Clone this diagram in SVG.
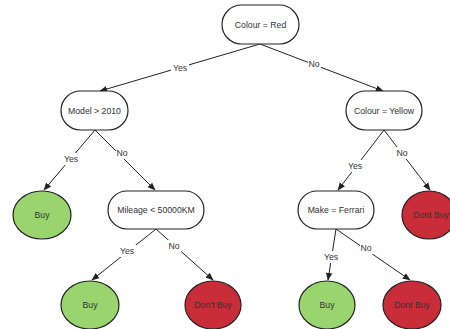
<svg xmlns="http://www.w3.org/2000/svg" width="450" height="329" viewBox="0 0 450 329">
<defs>
<style>
.dec{fill:#fff;stroke:#222;stroke-width:1.2}
.buy{fill:#99d46e;stroke:#222;stroke-width:1.2}
.no{fill:#c92d3a;stroke:#222;stroke-width:1.2}
text{font-family:"Liberation Sans",Arial,sans-serif;font-size:8.7px;fill:#333;text-anchor:middle;dominant-baseline:central}
.e{stroke:#222;stroke-width:1;fill:none;marker-end:url(#ah)}
.lb{fill:#fff}
</style>
<marker id="ah" viewBox="0 0 10 10" refX="9" refY="5" markerWidth="8" markerHeight="8" orient="auto" markerUnits="userSpaceOnUse">
<path d="M0,1 L10,5 L0,9 Z" fill="#222"/>
</marker>
</defs>
<g id="connectors">
<line class="e" x1="260" y1="44" x2="100" y2="91"/>
<line class="e" x1="260" y1="44" x2="383" y2="91"/>
<line class="e" x1="95" y1="130" x2="44" y2="190"/>
<line class="e" x1="95" y1="130" x2="155" y2="190"/>
<line class="e" x1="384" y1="130" x2="338" y2="190"/>
<line class="e" x1="384" y1="130" x2="430" y2="190"/>
<line class="e" x1="156" y1="229" x2="92" y2="280"/>
<line class="e" x1="156" y1="229" x2="213" y2="280"/>
<line class="e" x1="336" y1="229" x2="328" y2="280"/>
<line class="e" x1="336" y1="229" x2="410" y2="280"/>
<rect class="lb" x="171" y="62" width="18" height="12"/><text x="180" y="68">Yes</text>
<rect class="lb" x="308" y="58" width="13" height="12"/><text x="314" y="64">No</text>
<rect class="lb" x="62" y="153" width="18" height="12"/><text x="71" y="159">Yes</text>
<rect class="lb" x="116" y="147" width="13" height="12"/><text x="122" y="153">No</text>
<rect class="lb" x="346" y="160" width="18" height="12"/><text x="355" y="166">Yes</text>
<rect class="lb" x="396" y="147" width="13" height="12"/><text x="402" y="153">No</text>
<rect class="lb" x="118" y="245" width="18" height="12"/><text x="127" y="251">Yes</text>
<rect class="lb" x="168" y="240" width="13" height="12"/><text x="174" y="246">No</text>
<rect class="lb" x="322" y="251" width="18" height="12"/><text x="331" y="257">Yes</text>
<rect class="lb" x="360" y="242" width="13" height="12"/><text x="366" y="248">No</text>
</g>
<g id="root"><rect class="dec" x="222" y="5" width="77" height="39" rx="19.5"/><text x="260.5" y="25">Colour = Red</text></g>
<g id="model"><rect class="dec" x="61" y="91" width="67" height="39" rx="19.5"/><text x="94.5" y="110.5">Model &gt; 2010</text></g>
<g id="yellow"><rect class="dec" x="346" y="91" width="76" height="39" rx="19.5"/><text x="384" y="110.5">Colour = Yellow</text></g>
<g id="buy1"><ellipse class="buy" cx="42" cy="215" rx="29" ry="24"/><text x="42" y="215">Buy</text></g>
<g id="mileage"><rect class="dec" x="108" y="191" width="96" height="38" rx="19"/><text x="156" y="210">Mileage &lt; 50000KM</text></g>
<g id="ferrari"><rect class="dec" x="298" y="191" width="76" height="38" rx="19"/><text x="336" y="210">Make = Ferrari</text></g>
<g id="dontbuy1"><ellipse class="no" cx="429" cy="215" rx="27" ry="24"/><text x="431" y="215">Dont Buy</text></g>
<g id="buy2"><ellipse class="buy" cx="90" cy="305" rx="29" ry="24"/><text x="90" y="305">Buy</text></g>
<g id="dontbuy2"><ellipse class="no" cx="213" cy="305" rx="28" ry="24"/><text x="213" y="305">Don't Buy</text></g>
<g id="buy3"><ellipse class="buy" cx="327" cy="305" rx="28" ry="24"/><text x="327" y="305">Buy</text></g>
<g id="dontbuy3"><ellipse class="no" cx="412" cy="305" rx="29" ry="24"/><text x="412" y="305">Dont Buy</text></g>
</svg>
